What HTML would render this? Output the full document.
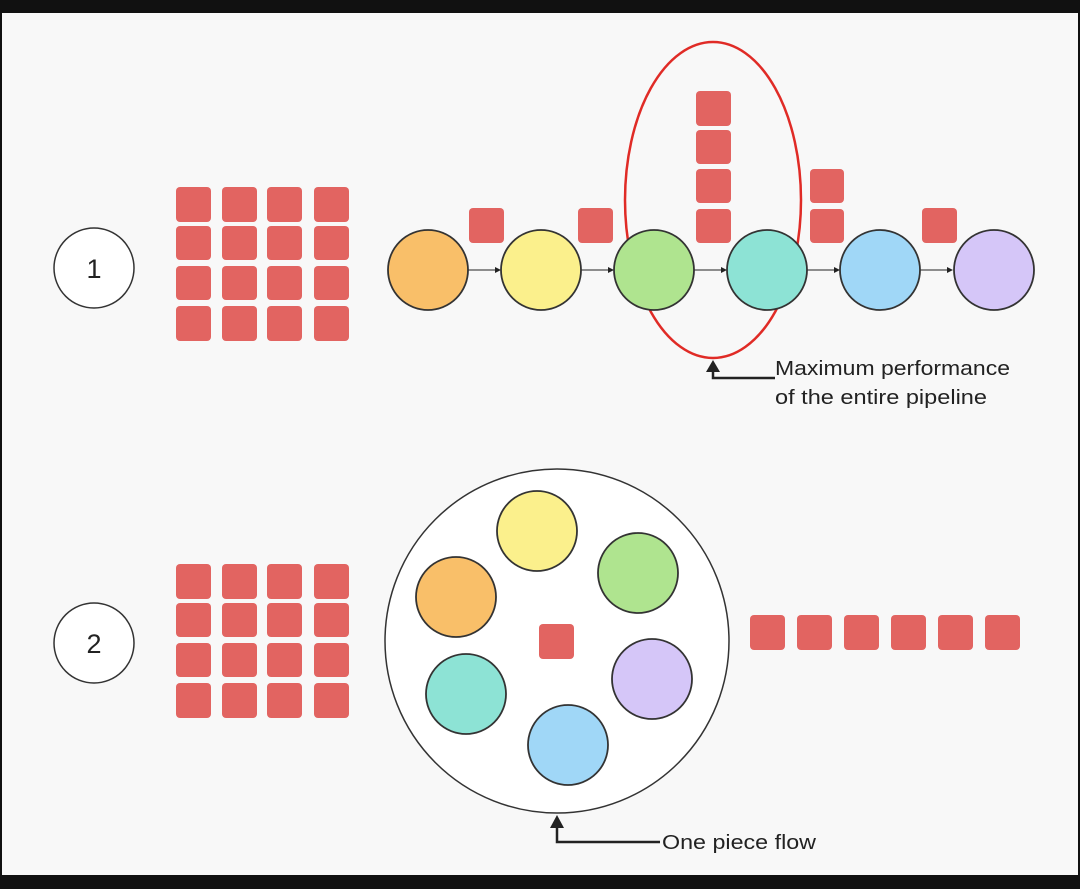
<!DOCTYPE html>
<html><head><style>
html,body{margin:0;padding:0;background:#111;}
svg{display:block;font-family:"Liberation Sans",sans-serif;}
</style></head><body>
<svg width="1080" height="889" viewBox="0 0 1080 889" xmlns="http://www.w3.org/2000/svg">
<defs>
<marker id="a" markerWidth="6" markerHeight="6" refX="5" refY="3" orient="auto"><path d="M0,0 L6,3 L0,6z" fill="#222"/></marker>
</defs>
<rect x="0" y="0" width="1080" height="889" fill="#111"/>
<rect x="2" y="13" width="1076" height="862" fill="#f8f8f8"/>
<ellipse cx="713" cy="200" rx="88" ry="158" fill="none" stroke="#e02b26" stroke-width="2.5"/>
<g fill="#e26461">
<rect x="176" y="187" width="35" height="35" rx="4"/><rect x="222" y="187" width="35" height="35" rx="4"/><rect x="267" y="187" width="35" height="35" rx="4"/><rect x="314" y="187" width="35" height="35" rx="4"/>
<rect x="176" y="226" width="35" height="34" rx="4"/><rect x="222" y="226" width="35" height="34" rx="4"/><rect x="267" y="226" width="35" height="34" rx="4"/><rect x="314" y="226" width="35" height="34" rx="4"/>
<rect x="176" y="266" width="35" height="34" rx="4"/><rect x="222" y="266" width="35" height="34" rx="4"/><rect x="267" y="266" width="35" height="34" rx="4"/><rect x="314" y="266" width="35" height="34" rx="4"/>
<rect x="176" y="306" width="35" height="35" rx="4"/><rect x="222" y="306" width="35" height="35" rx="4"/><rect x="267" y="306" width="35" height="35" rx="4"/><rect x="314" y="306" width="35" height="35" rx="4"/>
<rect x="176" y="564" width="35" height="35" rx="4"/><rect x="222" y="564" width="35" height="35" rx="4"/><rect x="267" y="564" width="35" height="35" rx="4"/><rect x="314" y="564" width="35" height="35" rx="4"/>
<rect x="176" y="603" width="35" height="34" rx="4"/><rect x="222" y="603" width="35" height="34" rx="4"/><rect x="267" y="603" width="35" height="34" rx="4"/><rect x="314" y="603" width="35" height="34" rx="4"/>
<rect x="176" y="643" width="35" height="34" rx="4"/><rect x="222" y="643" width="35" height="34" rx="4"/><rect x="267" y="643" width="35" height="34" rx="4"/><rect x="314" y="643" width="35" height="34" rx="4"/>
<rect x="176" y="683" width="35" height="35" rx="4"/><rect x="222" y="683" width="35" height="35" rx="4"/><rect x="267" y="683" width="35" height="35" rx="4"/><rect x="314" y="683" width="35" height="35" rx="4"/>
<rect x="469" y="208" width="35" height="35" rx="4"/><rect x="578" y="208" width="35" height="35" rx="4"/>
<rect x="696" y="91" width="35" height="35" rx="4"/><rect x="696" y="130" width="35" height="34" rx="4"/><rect x="696" y="169" width="35" height="34" rx="4"/><rect x="696" y="209" width="35" height="34" rx="4"/>
<rect x="810" y="169" width="34" height="34" rx="4"/><rect x="810" y="209" width="34" height="34" rx="4"/>
<rect x="922" y="208" width="35" height="35" rx="4"/>
<rect x="750" y="615" width="35" height="35" rx="4"/><rect x="797" y="615" width="35" height="35" rx="4"/><rect x="844" y="615" width="35" height="35" rx="4"/><rect x="891" y="615" width="35" height="35" rx="4"/><rect x="938" y="615" width="35" height="35" rx="4"/><rect x="985" y="615" width="35" height="35" rx="4"/>
</g>
<g stroke="#333" stroke-width="1.5">
<circle cx="94" cy="268" r="40" fill="#fff"/>
<circle cx="94" cy="643" r="40" fill="#fff"/>
</g>
<text x="94" y="278" font-size="27" text-anchor="middle" fill="#222">1</text>
<text x="94" y="653" font-size="27" text-anchor="middle" fill="#222">2</text>
<g stroke="#222" stroke-width="1" marker-end="url(#a)">
<line x1="468" y1="270" x2="500" y2="270"/><line x1="581" y1="270" x2="613" y2="270"/><line x1="694" y1="270" x2="726" y2="270"/><line x1="807" y1="270" x2="839" y2="270"/><line x1="920" y1="270" x2="952" y2="270"/>
</g>
<g stroke="#333" stroke-width="1.8">
<circle cx="428" cy="270" r="40" fill="#f9bf69"/>
<circle cx="541" cy="270" r="40" fill="#fbf08c"/>
<circle cx="654" cy="270" r="40" fill="#afe48f"/>
<circle cx="767" cy="270" r="40" fill="#8de3d5"/>
<circle cx="880" cy="270" r="40" fill="#a0d7f7"/>
<circle cx="994" cy="270" r="40" fill="#d5c6f8"/>
</g>
<path d="M713,366 L713,378 L775,378" fill="none" stroke="#222" stroke-width="2.5"/>
<path d="M706,372 L713,360 L720,372z" fill="#222"/>
<text x="775" y="375" font-size="20" fill="#222" textLength="235" lengthAdjust="spacingAndGlyphs">Maximum performance</text>
<text x="775" y="404" font-size="20" fill="#222" textLength="212" lengthAdjust="spacingAndGlyphs">of the entire pipeline</text>
<circle cx="557" cy="641" r="172" fill="#fff" stroke="#333" stroke-width="1.5"/>
<g stroke="#333" stroke-width="1.8">
<circle cx="537" cy="531" r="40" fill="#fbf08c"/>
<circle cx="638" cy="573" r="40" fill="#afe48f"/>
<circle cx="456" cy="597" r="40" fill="#f9bf69"/>
<circle cx="652" cy="679" r="40" fill="#d5c6f8"/>
<circle cx="466" cy="694" r="40" fill="#8de3d5"/>
<circle cx="568" cy="745" r="40" fill="#a0d7f7"/>
</g>
<rect x="539" y="624" width="35" height="35" rx="4" fill="#e26461"/>
<path d="M557,822 L557,842 L660,842" fill="none" stroke="#222" stroke-width="2.5"/>
<path d="M550,828 L557,815 L564,828z" fill="#222"/>
<text x="662" y="849" font-size="20" fill="#222" textLength="154" lengthAdjust="spacingAndGlyphs">One piece flow</text>
</svg>
</body></html>
